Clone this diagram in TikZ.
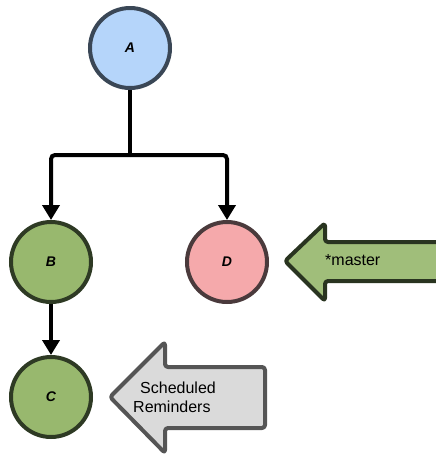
\documentclass[tikz,border=0pt]{standalone}
\usepackage{fontspec}
\setmainfont{Liberation Sans}
\usetikzlibrary{arrows.meta}
\definecolor{blueFill}{HTML}{B5D5FA}
\definecolor{blueLine}{HTML}{3A4756}
\definecolor{greenFill}{HTML}{98B86E}
\definecolor{greenLine}{HTML}{2E3A24}
\definecolor{pinkFill}{HTML}{F5A9AB}
\definecolor{pinkLine}{HTML}{4A3A3C}
\definecolor{grayFill}{HTML}{DADADA}
\definecolor{grayLine}{HTML}{555555}
\begin{document}
\begin{tikzpicture}[x=1pt,y=-1pt,
  commit/.style={circle,minimum size=80pt,inner sep=0pt,line width=4pt,
    font=\fontsize{14}{16}\selectfont\bfseries\itshape},
  conn/.style={line width=4pt,-{Triangle[width=17pt,length=15pt]}},
  callout/.style={line width=4pt,rounded corners=3pt,line join=round},
  shadowed/.style={black!35,opacity=0.5}
]
\useasboundingbox (0,0) rectangle (436,456);
% nodes
\node[commit,draw=blueLine,fill=blueFill] (A) at (130,48) {A};
\node[commit,draw=greenLine,fill=greenFill] (B) at (51,262) {B};
\node[commit,draw=pinkLine,fill=pinkFill] (D) at (227,262) {D};
\node[commit,draw=greenLine,fill=greenFill] (C) at (51,397) {C};
\coordinate (J) at (130,155);
% connectors
\draw[line width=4pt] (A.south) -- (J);
\draw[conn,rounded corners=4pt] (J) -| (B.north);
\draw[conn,rounded corners=4pt] (J) -| (D.north);
\draw[conn] (B.south) -- (C.north);
% master callout
\draw[callout,draw=greenLine!90!black,fill=greenFill!92!white]
  (285,261) -- (325,223) -- (325,242) -- (444,242) -- (444,281) -- (325,281) -- (325,301) -- cycle;
\node[font=\fontsize{16}{18}\selectfont,anchor=west,inner sep=0pt] (master) at (325,260) {*master};
% scheduled reminders callout
\draw[callout,draw=grayLine,fill=grayFill]
  (110,397) -- (165,342) -- (165,367) -- (265,367) -- (265,428) -- (165,428) -- (165,453) -- cycle;
\node[font=\fontsize{16}{19}\selectfont,align=left,anchor=west,inner sep=0pt] (sched) at (133,397) {\hspace{7pt}Scheduled\\Reminders};
\end{tikzpicture}
\end{document}
